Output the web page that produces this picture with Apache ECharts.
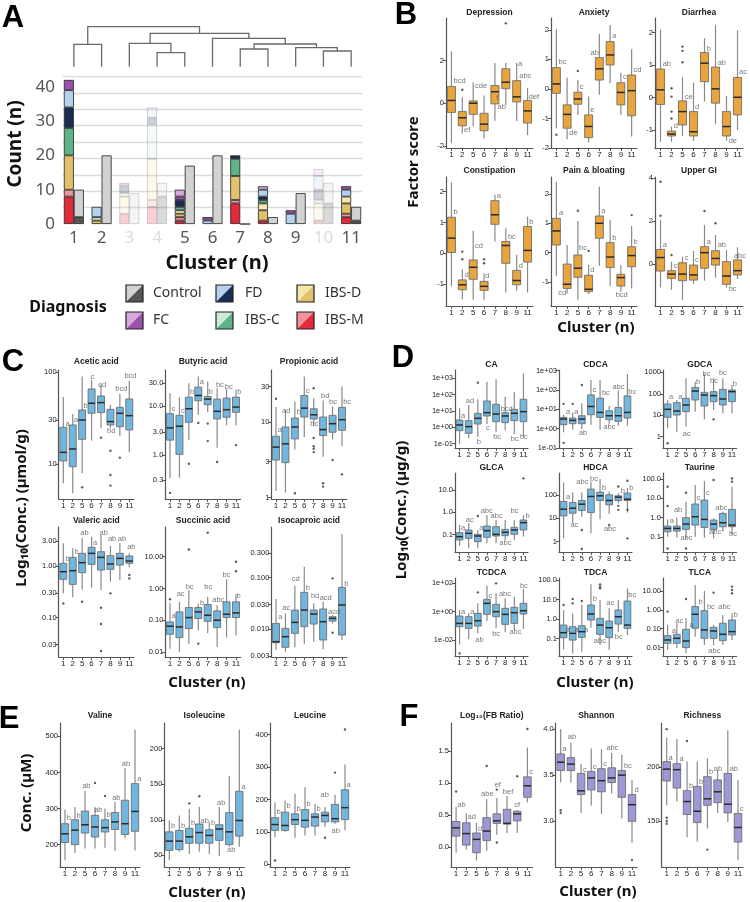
<!DOCTYPE html>
<html><head><meta charset="utf-8">
<script src="https://cdn.jsdelivr.net/npm/echarts@6/dist/echarts.min.js"></script>
<style>html,body{margin:0;padding:0;background:#fff}#c{width:750px;height:902px}</style>
</head><body><div id="c"></div>
<script>
// ---------------- Panel A data ----------------
const clustersA = ['1','2','3','4','5','6','7','8','9','10','11'];
const fadedClusters = ['3','4','10'];
const countTicks = ['0','10','20','30','40'];
const ibsmDark  = [8,0,3,5,1,0,6,1,0,1,2];
const ibsmLight = [2,0,0,2,1,0,1,0,0,0,1];
const ibsdDark  = [10,1,0,0,1,0,7,3,0,0,3];
const ibsdLight = [0,0,5,12,1,0,0,2,0,5,2];
const ibscDark  = [8,0,0,0,1,0,5,1,0,0,0];
const ibscLight = [0,1,1,10,0,0,0,0,0,1,0];
const fdDark    = [6,0,2,2,2,0,1,1,0,3,0];
const fdLight   = [5,3,0,3,0,1,0,2,3,4,2];
const fcDark    = [3,0,1,0,1,1,0,0,1,0,1];
const fcLight   = [0,0,0,0,2,0,0,1,0,2,0];
const ctrlDark  = [2,0,0,8,0,0,0,0,0,6,1];
const ctrlLight = [8,20,9,4,17,20,0,2,9,6,4];
// dendrogram merges: [left, right, height]
const dendroMerges = [[1,2,0.56],[4,5,0.35],[3,'m2',0.585],[7,8,0.443],[10,11,0.393],[9,'m5',0.475],['m4','m6',0.568],[6,'m7',0.71],['m3','m8',0.835],['m1','m9',1.0]];

// ---------------- Box panels ----------------
const clusters = ['1','2','5','6','7','8','9','11'];
// B
const depTicks=['-2','0','2'];
const depBox=[[-1.86,-0.43,0.13,0.79,2.44],[-1.42,-1.06,-0.68,-0.39,0.28],[-1.07,-0.52,0.0,0.11,0.98],[-1.65,-1.29,-0.98,-0.47,0.36],[-0.82,-0.03,0.54,0.83,1.89],[-0.08,0.68,0.99,1.62,1.89],[-0.83,0.06,0.30,1.06,1.89],[-1.5,-0.93,-0.36,0.13,0.71]];
const depOut=[[1,0.63],[5,3.75]];
const depLet=[['bcd',0.15,1.05],['ef',0.12,-1.26],['cde',0.12,0.83],['f',1.08,0.27],['ab',0.19,-0.19],['a',1.08,1.86],['abc',0.19,1.28],['def',0.06,0.31]];
const anxTicks=['-2','-1','0','1','2'];
const anxBox=[[-1.33,-0.15,0.17,0.72,2.02],[-1.7,-1.33,-0.86,-0.54,0.39],[-0.88,-0.52,-0.34,-0.11,0.30],[-1.81,-1.65,-1.27,-0.88,-0.26],[-0.2,0.30,0.68,1.06,1.86],[0.19,0.81,1.15,1.6,2.16],[-0.88,-0.54,-0.12,0.21,0.55],[-1.61,-0.91,-0.06,0.47,1.34]];
const anxOut=[[0,-1.55],[2,0.61]];
const anxLet=[['bc',0.15,0.92],['de',0.15,-1.5],['c',0.12,0.06],['e',0.1,-0.71],['ab',-0.87,1.23],['a',0.15,1.79],['c',0.15,0.39],['cd',0.12,0.64]];
const diaTicks=['-1','0','1','2'];
const diaBox=[[-1.36,-0.21,0.24,0.88,2.09],[-1.36,-1.18,-1.12,-1.03,-0.89],[-1.18,-0.84,-0.43,-0.1,0.63],[-1.33,-1.18,-1.05,-0.43,0.46],[-0.12,0.49,1.06,1.39,1.83],[-0.82,-0.17,0.27,0.94,2.24],[-1.33,-1.18,-0.89,-0.43,0.05],[-1.0,-0.53,0.01,0.62,2.07]];
const diaOut=[[1,0.29],[1,0.03],[1,-0.43],[1,-0.64],[2,1.57],[2,1.44],[2,1.09]];
const diaLet=[['ab',0.15,1.04],['d',0.15,-0.87],['ce',0.15,0.03],['d',0.1,-0.3],['b',0.15,1.5],['ab',0.15,1.06],['de',0.15,-1.33],['ac',0.1,0.78]];
const conTicks=['-1','0','1','2'];
const conBox=[[-1.08,0.02,0.49,1.17,2.3],[-1.5,-1.19,-1.03,-0.87,-0.52],[-1.52,-0.85,-0.46,-0.22,0.73],[-1.52,-1.21,-1.08,-0.92,-0.65],[0.38,0.94,1.25,1.71,1.9],[-1.28,-0.33,0.25,0.38,0.81],[-1.22,-1.03,-0.89,-0.56,-0.05],[-1.28,-0.29,0.09,0.87,1.19]];
const conOut=[[1,0.05],[1,-0.2],[3,-0.2],[3,-0.33]];
const conLet=[['b',0.15,1.35],['d',0.15,-0.7],['cd',0.12,0.22],['d',0.06,-0.74],['a',0.12,1.86],['bc',0.15,0.52],['d',0.15,-0.41],['b',0.12,1.03]];
const painTicks=['-1','0','1','2'];
const painBox=[[-0.8,0.26,0.74,1.17,2.42],[-1.39,-1.22,-1.08,-0.39,0.26],[-1.61,-0.84,-0.53,-0.08,1.08],[-1.41,-1.33,-1.25,-0.77,-0.42],[-0.45,0.49,1.0,1.25,2.25],[-1.14,-0.51,-0.15,0.34,1.11],[-1.33,-1.14,-0.85,-0.74,-0.42],[-1.22,-0.48,-0.1,0.2,0.91]];
const painOut=[[2,1.43],[3,0.06],[7,1.28]];
const painLet=[['a',0.19,1.34],['cd',-0.87,-1.39],['bc',0.06,0.15],['d',0.1,-0.59],['a',0.12,1.43],['b',0.15,0.51],['bcd',-0.53,-1.44],['b',0.12,0.38]];
const ugiTicks=['0','2','4'];
const ugiBox=[[-1.09,-0.33,0.3,0.68,2.05],[-1.21,-0.67,-0.47,-0.31,0.11],[-1.68,-0.78,-0.47,0.06,0.34],[-0.93,-0.75,-0.51,-0.05,0.61],[-0.78,-0.2,0.53,0.81,1.82],[-0.64,-0.05,0.26,0.62,1.35],[-1.1,-0.95,-0.56,0.11,0.65],[-0.7,-0.51,-0.31,0.19,0.78]];
const ugiOut=[[0,3.84],[0,2.25],[1,0.42],[4,2.47],[5,1.9]];
const ugiLet=[['a',0.15,0.89],['c',0.15,-0.09],['c',0.15,0.26],['c',0.1,0.19],['a',0.15,1.04],['ab',0.15,0.89],['bc',0.15,-1.18],['abc',-0.37,0.37]];
// C (log10 values)
const aceTicks=['10','30','100'];
const aceBox=[[0.79,1.033,1.127,1.40,1.73],[0.68,0.97,1.164,1.425,1.545],[0.898,1.269,1.48,1.589,1.953],[1.255,1.553,1.662,1.818,1.916],[1.389,1.56,1.669,1.742,1.87],[1.389,1.425,1.462,1.596,1.644],[1.305,1.407,1.553,1.618,1.764],[1.127,1.371,1.527,1.709,1.909]];
const aceOut=[[2,0.745],[4,1.287],[5,1.145],[5,0.88],[5,0.764],[6,1.069]];
const aceLet=[['a',0.18,1.44],['a',0.07,1.48],['b',0.1,1.633],['c',-0.18,1.945],['cd',-0.35,1.862],['bd',-0.42,1.364],['bcd',-0.53,1.818],['bcd',-0.57,1.964]];
const butTicks=['0.3','1.0','3.0','10.0','30.0'];
const butBox=[[-0.476,0.306,0.558,0.85,1.272],[-0.463,0.014,0.592,0.816,1.19],[0.306,0.673,0.952,1.19,1.476],[0.83,1.116,1.224,1.395,1.612],[0.878,1.034,1.15,1.204,1.51],[0.15,0.741,0.898,1.15,1.374],[0.612,0.776,0.932,1.17,1.354],[0.612,0.878,0.986,1.19,1.34]];
const butOut=[[0,-0.78],[2,-0.18],[3,0.66],[4,0.646],[4,0.286],[5,-0.143],[7,0.204]];
const butLet=[['c',0.1,0.952],['c',0.1,0.91],['b',0.07,1.29],['a',0.1,1.5],['b',0.07,1.29],['bc',-0.18,1.44],['bc',-0.25,1.39],['b',0.07,1.29]];
const proTicks=['1','3','10','30'];
const proBox=[[0.088,0.498,0.67,0.815,1.203],[0.066,0.463,0.714,0.938,1.167],[0.639,0.78,0.938,1.057,1.278],[0.806,1.07,1.189,1.357,1.608],[0.947,1.044,1.1,1.18,1.32],[0.542,0.824,0.903,1.07,1.29],[0.771,0.868,0.982,1.093,1.211],[0.683,0.894,1.035,1.198,1.476]];
const proOut=[[0,1.313],[2,0.057],[4,1.454],[4,0.793],[4,0.683],[4,0.648],[4,0.604],[5,0.189],[5,0.145],[6,0.498],[7,0.308]];
const proLet=[['a',0.14,0.894],['ad',-0.42,1.145],['b',0.14,1.137],['c',0.14,1.42],['bc',-0.42,0.98],['bd',-0.28,1.357],['bc',-0.42,1.27],['bc',0.07,1.27]];
const valTicks=['0.03','0.10','0.30','1.00','3.00'];
const valBox=[[-0.529,-0.258,-0.11,0.052,0.439],[-0.606,-0.355,-0.09,0.168,0.342],[-0.452,-0.129,0.065,0.245,0.535],[-0.419,0.032,0.245,0.361,0.568],[-0.465,-0.077,0.168,0.277,0.6],[-0.303,-0.065,0.039,0.2,0.387],[-0.271,0.019,0.148,0.245,0.439],[-0.026,0.052,0.097,0.194,0.245]];
const valOut=[[0,-0.723],[2,-0.69],[4,-0.806],[4,-1.123],[4,-1.645],[5,-0.529],[7,-0.174],[7,-0.239]];
const valLet=[['b',0.18,0.135],['b',0.14,0.265],['ab',-0.25,0.632],['a',0.1,0.452],['ab',-0.21,0.632],['ab',-0.32,0.523],['ab',-0.28,0.523],['ab',-0.28,0.361]];
const sucTicks=['0.01','0.10','1.00','10.00'];
const sucBox=[[-1.895,-1.442,-1.189,-1.053,-0.453],[-2.0,-1.547,-1.21,-0.737,-0.421],[-1.737,-1.263,-0.916,-0.6,-0.053],[-1.316,-0.947,-0.737,-0.6,-0.474],[-1.4,-1.032,-0.842,-0.505,-0.263],[-1.842,-1.232,-1.0,-0.705,-0.526],[-1.547,-0.916,-0.81,-0.421,0.284],[-1.474,-0.916,-0.768,-0.421,-0.179]];
const sucOut=[[0,-0.337],[2,1.23],[3,-1.737],[4,1.758],[7,0.842],[7,0.547]];
const sucLet=[['a',0.1,-0.874],['ac',-0.35,-0.179],['bc',-0.39,0.053],['b',0.14,-0.442],['bc',-0.42,0.053],['abc',-0.57,-0.347],['bc',-0.49,0.442],['b',0.0,-0.242]];
const isoTicks=['0.003','0.010','0.030','0.100','0.300'];
const isoBox=[[-2.4,-2.258,-2.239,-1.884,-1.413],[-2.432,-2.348,-2.142,-1.98,-1.69],[-2.348,-2.077,-1.865,-1.626,-1.155],[-2.284,-1.948,-1.626,-1.284,-0.787],[-2.239,-1.897,-1.703,-1.626,-1.497],[-2.387,-2.206,-1.852,-1.606,-1.465],[-1.884,-1.839,-1.787,-1.755,-1.723],[-2.206,-2.11,-1.529,-1.187,-0.155]];
const isoOut=[[6,-1.013],[6,-2.065]];
const isoLet=[['a',0.18,-1.755],['ac',-0.39,-1.594],['cd',-0.39,-1.032],['b',0.1,-1.194],['bd',-0.35,-1.355],['acd',-0.42,-1.4],['acd',-0.53,-1.658],['b',0.18,-1.129]];
// D (log10 values)
const caTicks=['1e-01','1e+00','1e+01','1e+02','1e+03'];
const caBox=[[-1.015,-0.203,0.142,0.447,1.157],[-0.67,-0.365,0.04,0.406,1.36],[-0.569,0.203,0.548,0.853,1.706],[0.203,0.69,0.893,1.604,2.78],[-0.264,0.345,0.812,1.4,2.92],[-0.162,0.284,0.69,0.893,1.868],[-0.406,0.406,0.853,1.096,2.17],[-0.569,0.345,0.954,1.706,3.29]];
const caOut=[[2,2.72]];
const caLet=[['a',0.1,0.71],['ad',-0.37,1.624],['b',-0.18,-0.873],['c',-0.15,-0.06],['bc',-0.37,-0.61],['bcd',-0.55,1.096],['bc',-0.44,-0.73],['bc',-0.44,-0.61]];
const cdcaTicks=['1e-01','1e+00','1e+01','1e+02','1e+03'];
const cdcaBox=[[-0.188,0.205,0.496,0.581,0.718],[-0.051,0.256,0.427,0.547,0.838],[-0.017,0.256,0.496,0.667,1.316],[0.205,0.718,1.145,1.744,2.513],[-0.051,0.581,0.838,1.573,2.513],[0.256,0.462,0.667,0.923,1.179],[0.154,0.376,0.667,1.094,1.966],[0.154,0.547,0.838,1.692,2.82]];
const cdcaOut=[[0,1.282],[0,-0.735],[1,1.282],[2,2.256]];
const cdcaLet=[['a',0.22,0.838],['a',0.11,0.838],['ab',-0.37,-0.22],['c',0.15,2.0],['bc',0.15,1.83],['abc',-0.7,0.068],['abc',-0.7,2.137],['bc',0.04,1.915]];
const gdcaTicks=['1','10','100','1000'];
const gdcaBox=[[0.389,0.902,1.275,1.523,1.7],[0.233,1.01,1.197,1.586,1.71],[0.466,1.166,1.477,1.788,2.72],[1.166,1.71,2.13,2.3,2.565],[0.808,1.43,1.943,2.067,2.922],[1.244,1.632,1.912,2.1,2.72],[1.088,1.477,1.757,2.207,2.72],[1.088,1.632,2.1,2.176,2.41]];
const gdcaOut=[[0,-0.311],[5,0.808]];
const gdcaLet=[['a',0.11,1.85],['a',0.11,1.85],['ac',-0.4,0.124],['b',0.04,2.534],['bc',-0.26,2.907],['bc',-0.44,2.612],['bc',-0.48,2.953],['b',0.04,2.44]];
const glcaTicks=['0.1','1.0','10.0'];
const glcaBox=[[-1.519,-1.248,-1.098,-0.917,-0.571],[-1.624,-1.173,-0.947,-0.797,-0.496],[-1.624,-1.323,-1.068,-0.992,-0.797],[-1.398,-1.128,-0.827,-0.617,-0.12],[-1.398,-1.068,-0.992,-0.647,-0.346],[-1.248,-1.053,-0.902,-0.767,-0.346],[-1.248,-0.992,-0.797,-0.677,-0.35],[-1.098,-0.797,-0.466,-0.346,-0.12]];
const glcaOut=[[2,-0.165],[7,1.534]];
const glcaLet=[['a',0.11,-0.692],['ac',-0.37,-0.346],['a',0.11,-0.692],['abc',-0.74,0.075],['abc',-0.66,-0.165],['abc',-0.7,-1.398],['bc',-0.48,0.075],['b',0.18,-0.165]];
const hdcaTicks=['1','10','100'];
const hdcaBox=[[0.143,1.1,1.386,1.714,2.529],[0.786,1.214,1.429,1.671,2.1],[1.071,1.329,1.6,1.757,2.1],[0.357,1.243,1.929,2.243,2.571],[0.957,1.757,1.957,2.114,2.671],[1.186,1.571,1.757,2.0,2.143],[1.643,1.757,1.9,1.957,2.071],[1.243,1.757,1.814,2.071,2.286]];
const hdcaOut=[[2,0.5],[2,-0.31],[5,0.714],[6,2.357],[6,1.529],[6,1.357],[7,2.6],[7,1.357],[7,0.143]];
const hdcaLet=[['a',0.22,1.929],['ac',-0.3,0.714],['abc',-0.66,2.529],['bc',-0.15,2.671],['b',0.15,2.286],['abc',-0.63,0.529],['b',0.22,2.171],['b',0.15,2.314]];
const taurTicks=['0.1','1.0','10.0','100.0'];
const taurBox=[[-0.983,-0.724,-0.552,-0.431,-0.086],[-1.017,-0.69,-0.552,-0.431,0.017],[-1.069,-0.603,-0.328,0.0,0.828],[-0.983,-0.379,0.052,0.707,1.69],[-1.017,-0.5,-0.086,0.914,1.897],[-1.069,-0.603,-0.328,-0.121,-0.034],[-0.724,-0.466,-0.259,0.224,0.31],[-0.897,-0.466,-0.379,0.431,1.603]];
const taurOut=[[0,1.603],[0,0.603],[0,-1.586],[2,1.293],[2,-1.586],[5,1.948],[7,2.03],[7,1.862]];
const taurLet=[['a',0.18,-0.172],['ab',-0.37,0.397],['abc',-0.66,-1.069],['c',0.11,1.0],['c',0.11,1.259],['abc',-0.55,-0.724],['abc',-0.88,0.517],['bc',-0.37,-0.862]];
const tcdcaTicks=['1e-02','1e+00','1e+02'];
const tcdcaBox=[[-2.279,-1.047,-0.814,-0.302,0.116],[-1.93,-1.163,-0.814,-0.349,-0.116],[-1.512,-1.0,-0.628,-0.116,0.581],[-0.651,-0.186,0.581,0.86,1.814],[-1.163,-0.349,0.0,0.512,1.279],[-1.442,-0.884,-0.186,0.233,0.93],[-1.279,-0.814,-0.07,0.302,1.047],[-1.209,-0.163,0.07,0.581,1.581]];
const tcdcaOut=[[0,-2.907],[2,1.349],[4,1.977]];
const tcdcaLet=[['a',0.11,0.0],['a',0.11,0.0],['ab',-0.33,-1.977],['c',0.11,1.093],['bc',-0.48,-1.581],['abc',-0.74,1.233],['abc',-0.59,-1.442],['bc',-0.44,1.814]];
const tdcaTicks=['0.1','1.0','10.0','100.0'];
const tdcaBox=[[-1.56,-0.96,-0.703,-0.309,0.463],[-1.766,-1.08,-0.737,-0.394,0.291],[-1.68,-0.943,-0.651,-0.343,0.72],[-0.446,-0.051,0.257,0.72,1.783],[-1.337,-0.789,-0.309,0.034,0.977],[-1.594,-0.96,-0.446,-0.103,0.549],[-0.651,-0.257,0.12,0.463,0.977],[-0.823,-0.48,-0.309,0.926,1.577]];
const tdcaOut=[[0,0.72],[1,1.029],[1,0.806],[2,0.926],[4,1.783],[4,1.663],[4,1.577]];
const tdcaLet=[['a',0.22,-0.566],['a',0.15,-0.566],['a',0.18,-0.566],['b',0.15,1.011],['abc',-0.74,-1.114],['ac',-0.37,0.806],['bc',-0.44,-0.909],['bc',0.04,1.234]];
const tlcaTicks=['0.01','0.10','1.00','10.00'];
const tlcaBox=[[-2.13,-1.775,-1.598,-1.367,-0.799],[-2.041,-1.775,-1.509,-1.296,-0.71],[-2.308,-2.006,-1.651,-1.03,-0.444],[-1.42,-0.976,-0.231,0.178,1.331],[-1.864,-1.509,-1.065,-0.036,1.012],[-1.864,-1.509,-1.118,-0.923,-0.799],[-1.864,-1.633,-1.296,-0.71,-0.266],[-1.598,-1.331,-1.154,-0.533,-0.178]];
const tlcaOut=[[0,-0.089],[2,0.586],[5,0.923],[7,1.243],[7,1.065],[7,0.888]];
const tlcaLet=[['a',0.4,-1.118],['ac',-0.22,-0.568],['a',0.33,-0.799],['b',0.3,0.408],['bc',0.22,0.178],['abc',-0.63,-2.184],['abc',-0.55,0.178],['b',0.11,-0.266]];
// E
const valiTicks=['200','300','400','500'];
const valiBox=[[157,206,230,258,297],[177,200,240,269,304],[189,232,255,293,349],[189,221,249,281,304],[191,235,247,269,300],[182,242,263,289,318],[218,228,258,323,412],[184,237,292,369,519]];
const valiOut=[[3,371],[4,335]];
const valiLet=[['b',0.13,274],['b',0.1,279],['ab',-0.33,362],['ab',-0.13,297],['b',0.1,283],['ab',-0.33,330],['ab',-0.37,424],['a',0.17,381]];
const ileuTicks=['50','100','150','200'];
const ileuBox=[[43,57,70,83,99],[55,58,70,85,106],[52,67,76,88,115],[55,67,82,94,118],[52,67,78,86,97],[49,71,87,93,118],[62,65,83,110,162],[62,77,99,140,227]];
const ileuOut=[[2,123],[3,133]];
const ileuLet=[['b',0.13,91],['b',0.13,91],['b',0.13,96],['ab',0.07,99],['b',0.13,96],['ab',-0.27,123],['ab',-0.27,57],['a',0.17,146]];
const leuTicks=['0','100','200','300','400'];
const leuBox=[[84,105,123,144,192],[100,105,120,161,197],[82,123,138,156,218],[89,115,136,169,238],[89,118,146,156,187],[115,131,151,161,177],[125,131,141,185,215],[105,138,175,230,308]];
const leuOut=[[0,12],[5,82],[6,283],[7,416]];
const leuLet=[['b',0.1,161],['b',0.1,179],['b',0.1,172],['b',0.1,185],['b',0.1,172],['ab',-0.5,215],['ab',-0.4,102],['a',0.1,244]];
// F
const fbTicks=['0.0','0.5','1.0','1.5'];
const fbBox=[[-0.09,0.17,0.30,0.40,0.63],[-0.04,0.03,0.21,0.38,0.53],[-0.21,-0.09,0.12,0.22,0.38],[-0.06,0.10,0.25,0.46,0.75],[0.19,0.37,0.41,0.52,0.77],[0.22,0.36,0.37,0.59,0.8],[0.22,0.41,0.52,0.56,0.58],[0.70,0.78,0.96,1.10,1.56]];
const fbOut=[[0,0.87],[3,1.27],[4,0.07],[4,0.9],[6,1.11],[7,1.85]];
const fbLet=[['ab',0.07,0.66],['ad',0.07,0.47],['d',0.1,0.29],['abe',-0.6,0.83],['ef',-0.26,0.97],['bef',-0.46,0.87],['cf',-0.33,0.66],['c',0.13,1.17]];
const shanTicks=['3.0','3.5','4.0'];
const shanBox=[[3.42,3.55,3.64,3.73,4.0],[3.42,3.55,3.62,3.69,3.85],[3.09,3.29,3.33,3.52,3.62],[3.17,3.34,3.47,3.54,3.79],[3.08,3.32,3.44,3.57,3.78],[3.30,3.42,3.47,3.58,3.74],[3.03,3.26,3.50,3.55,3.72],[2.77,3.0,3.18,3.29,3.45]];
const shanOut=[[0,3.12],[0,3.09],[7,2.58]];
const shanLet=[['a',0.13,3.78],['ab',-0.36,3.91],['c',0.13,3.56],['c',0.13,3.59],['c',0.13,3.62],['abc',-0.56,3.80],['bc',0.16,3.6],['d',0.2,3.34]];
const richTicks=['150','200'];
const richBox=[[164.5,187,198,205,227],[168,180.5,197.5,203,226],[135,156,168,178,205],[131,148.5,159,182,205],[143,164.5,170.5,191,208],[157.5,167,177,188,197],[149,157.5,165.5,194,234],[113.6,130.5,144,157,188]];
const richOut=[[0,235],[0,153],[0,150],[0,147.5],[2,224],[4,123.5]];
const richLet=[['a',0.13,208.6],['a',0.2,207],['b',0.13,182],['b',0.13,186],['b',0.1,195],['ab',-0.43,198],['ab',0.13,198],['c',0.13,161]];

// ---------------- build ----------------
const SF = 'Liberation Sans, Arial, sans-serif';
const BF = 'Noto Sans, Open Sans, sans-serif';
const grid=[], xAxis=[], yAxis=[], series=[], graphic=[];

function txt(x,y,s,size,weight,color,rot,family,align){
  graphic.push({type:'text', x:x, y:y, rotation: rot||0, silent:true,
    style:{text:s, fontSize:size, fontWeight:weight||'normal', fontFamily:family||BF, fill:color||'#111',
      textAlign:align||'center', textVerticalAlign:'middle', align:align||'center', verticalAlign:'middle'}});
}

function boxRender(color){
  return function(params, api){
    const i = api.value(0);
    const v = [api.value(1),api.value(2),api.value(3),api.value(4),api.value(5)];
    const p = v.map(val => api.coord([i, val]));
    const cx = p[0][0];
    const bw = api.size([1,0])[0]*0.74;
    return {type:'group', children:[
      {type:'line', shape:{x1:cx,y1:p[4][1],x2:cx,y2:p[3][1]}, style:{stroke:'#8a8a8a', lineWidth:1.2}},
      {type:'line', shape:{x1:cx,y1:p[1][1],x2:cx,y2:p[0][1]}, style:{stroke:'#8a8a8a', lineWidth:1.2}},
      {type:'rect', shape:{x:cx-bw/2, y:p[3][1], width:bw, height:p[1][1]-p[3][1]}, style:{fill:color, stroke:'#6e6e6e', lineWidth:0.9}},
      {type:'line', shape:{x1:cx-bw/2,y1:p[2][1],x2:cx+bw/2,y2:p[2][1]}, style:{stroke:'#2a2a2a', lineWidth:1.5}}
    ]};
  };
}

function boxPanel(c){
  const gi = grid.length;
  grid.push({left:c.left, top:c.top, width:c.width, height:c.height});
  const xi = xAxis.length;
  xAxis.push({type:'category', gridIndex:gi, data:clusters, position:'bottom',
    axisLine:{show:true, onZero:false, lineStyle:{color:'#555', width:1.2}},
    axisTick:{show:true, length:3, alignWithLabel:true, lineStyle:{color:'#555', width:1}},
    axisLabel:{interval:0, fontSize:8, color:'#222', margin:3, fontFamily:SF}, splitLine:{show:false}});
  xAxis.push({type:'value', gridIndex:gi, min:-0.5, max:clusters.length-0.5, show:false});
  const yi = yAxis.length;
  const tickPos = c.ticks.map(s => c.log ? Math.log10(parseFloat(s)) : parseFloat(s));
  yAxis.push({type:'value', gridIndex:gi, min:c.min, max:c.max, position:'left',
    axisLine:{show:true, onZero:false, lineStyle:{color:'#555', width:1.2}},
    axisTick:{show:true, length:3, customValues:tickPos, lineStyle:{color:'#555', width:1}},
    axisLabel:{show:true, customValues:tickPos, fontSize:7.5, color:'#222', margin:2, fontFamily:SF,
      formatter:function(v){ const k = tickPos.findIndex(t => Math.abs(t-v) < 1e-6); return k>=0 ? c.ticks[k] : ''; }},
    splitLine:{show:false}});
  series.push({type:'custom', xAxisIndex:xi, yAxisIndex:yi, renderItem:boxRender(c.color),
    encode:{x:0, y:[1,2,3,4,5]}, data:c.box.map((b,i)=>[i].concat(b)), silent:true, z:2});
  series.push({type:'scatter', xAxisIndex:xi, yAxisIndex:yi, data:c.out, symbolSize:2.4,
    itemStyle:{color:'#333'}, silent:true, z:3});
  series.push({type:'scatter', xAxisIndex:xi+1, yAxisIndex:yi, symbolSize:1, itemStyle:{color:'rgba(0,0,0,0)'},
    data:c.lets.map((l,i)=>[i+l[1], l[2], l[0]]), silent:true, z:4,
    label:{show:true, position:'right', distance:0, formatter:p=>p.data[2], fontSize:7.5, color:'#555', fontFamily:SF}});
  txt(c.left + c.width/2, c.titleY, c.title, 8.5, 'bold', '#222', 0, SF);
}

const ORANGE='#E9A43B', BLUE='#71B6DE', PURPLE='#9D99D8';
const panels = [
  // B
  {title:'Depression', box:depBox, out:depOut, lets:depLet, ticks:depTicks, min:-2.1, max:4.0, left:446, top:18, width:87, height:130, titleY:13, color:ORANGE},
  {title:'Anxiety', box:anxBox, out:anxOut, lets:anxLet, ticks:anxTicks, min:-2.0, max:2.4, left:551, top:18, width:86, height:130, titleY:13, color:ORANGE},
  {title:'Diarrhea', box:diaBox, out:diaOut, lets:diaLet, ticks:diaTicks, min:-1.55, max:2.45, left:655, top:18, width:88, height:130, titleY:13, color:ORANGE},
  {title:'Constipation', box:conBox, out:conOut, lets:conLet, ticks:conTicks, min:-1.72, max:2.48, left:446, top:177, width:87, height:129, titleY:171, color:ORANGE},
  {title:'Pain & bloating', box:painBox, out:painOut, lets:painLet, ticks:painTicks, min:-1.82, max:2.58, left:551, top:177, width:86, height:129, titleY:171, color:ORANGE},
  {title:'Upper GI', box:ugiBox, out:ugiOut, lets:ugiLet, ticks:ugiTicks, min:-1.96, max:4.06, left:655, top:177, width:88, height:129, titleY:171, color:ORANGE},
  // C
  {title:'Acetic acid', box:aceBox, out:aceOut, lets:aceLet, ticks:aceTicks, log:true, min:0.618, max:2.025, left:58.6, top:370, width:75.4, height:129, titleY:362, color:BLUE},
  {title:'Butyric acid', box:butBox, out:butOut, lets:butLet, ticks:butTicks, log:true, min:-0.905, max:1.748, left:165.3, top:370, width:75.4, height:129, titleY:362, color:BLUE},
  {title:'Propionic acid', box:proBox, out:proOut, lets:proLet, ticks:proTicks, log:true, min:-0.02, max:1.696, left:271.3, top:370, width:75.4, height:129, titleY:362, color:BLUE},
  {title:'Valeric acid', box:valBox, out:valOut, lets:valLet, ticks:valTicks, log:true, min:-1.76, max:0.755, left:58.6, top:527, width:75.4, height:130, titleY:521, color:BLUE},
  {title:'Succinic acid', box:sucBox, out:sucOut, lets:sucLet, ticks:sucTicks, log:true, min:-2.158, max:1.937, left:165.3, top:527, width:75.4, height:130, titleY:521, color:BLUE},
  {title:'Isocaproic acid', box:isoBox, out:isoOut, lets:isoLet, ticks:isoTicks, log:true, min:-2.535, max:-0.019, left:271.3, top:527, width:75.4, height:130, titleY:521, color:BLUE},
  // D
  {title:'CA', box:caBox, out:caOut, lets:caLet, ticks:caTicks, log:true, min:-1.26, max:3.49, left:455, top:370, width:73, height:78, titleY:365, color:BLUE},
  {title:'CDCA', box:cdcaBox, out:cdcaOut, lets:cdcaLet, ticks:cdcaTicks, log:true, min:-1.0, max:3.03, left:559, top:370, width:73, height:78, titleY:365, color:BLUE},
  {title:'GDCA', box:gdcaBox, out:gdcaOut, lets:gdcaLet, ticks:gdcaTicks, log:true, min:-0.53, max:3.11, left:663, top:370, width:73.6, height:78, titleY:365, color:BLUE},
  {title:'GLCA', box:glcaBox, out:glcaOut, lets:glcaLet, ticks:glcaTicks, log:true, min:-1.79, max:1.775, left:455, top:473, width:73, height:79, titleY:468, color:BLUE},
  {title:'HDCA', box:hdcaBox, out:hdcaOut, lets:hdcaLet, ticks:hdcaTicks, log:true, min:-0.44, max:2.93, left:559, top:473, width:73, height:79, titleY:468, color:BLUE},
  {title:'Taurine', box:taurBox, out:taurOut, lets:taurLet, ticks:taurTicks, log:true, min:-1.77, max:2.31, left:663, top:473, width:73.6, height:79, titleY:468, color:BLUE},
  {title:'TCDCA', box:tcdcaBox, out:tcdcaOut, lets:tcdcaLet, ticks:tcdcaTicks, log:true, min:-3.09, max:2.35, left:455, top:578, width:73, height:78, titleY:573, color:BLUE},
  {title:'TDCA', box:tdcaBox, out:tdcaOut, lets:tdcaLet, ticks:tdcaTicks, log:true, min:-1.9, max:2.11, left:559, top:578, width:73, height:78, titleY:573, color:BLUE},
  {title:'TLCA', box:tlcaBox, out:tlcaOut, lets:tlcaLet, ticks:tlcaTicks, log:true, min:-2.45, max:1.7, left:663, top:578, width:73.6, height:78, titleY:573, color:BLUE},
  // E
  {title:'Valine', box:valiBox, out:valiOut, lets:valiLet, ticks:valiTicks, min:138, max:537, left:60, top:723, width:80, height:144, titleY:716, color:BLUE},
  {title:'Isoleucine', box:ileuBox, out:ileuOut, lets:ileuLet, ticks:ileuTicks, min:33.6, max:236, left:164.3, top:723, width:80, height:144, titleY:716, color:BLUE},
  {title:'Leucine', box:leuBox, out:leuOut, lets:leuLet, ticks:leuTicks, min:-8, max:436, left:270, top:723, width:80, height:144, titleY:716, color:BLUE},
  // F
  {title:'Log\u2081\u2080(FB Ratio)', box:fbBox, out:fbOut, lets:fbLet, ticks:fbTicks, min:-0.314, max:1.945, left:451, top:723, width:81.5, height:144, titleY:716, color:PURPLE},
  {title:'Shannon', box:shanBox, out:shanOut, lets:shanLet, ticks:shanTicks, min:2.505, max:4.065, left:555.6, top:723, width:81.5, height:144, titleY:716, color:PURPLE},
  {title:'Richness', box:richBox, out:richOut, lets:richLet, ticks:richTicks, min:107.4, max:240.7, left:661.6, top:723, width:81.5, height:144, titleY:716, color:PURPLE}
];
panels.forEach(boxPanel);

// ---------------- Panel A ----------------
(function(){
  const yMaxA = 43, nGrid = 9;
  // background gridlines (overlay grid with value axes)
  const bg = grid.length;
  grid.push({left:60, top:76.5, width:305, height:147.5});
  const bx = xAxis.length;
  xAxis.push({type:'value', gridIndex:bg, min:0.5, max:11.5, show:false});
  const by = yAxis.length;
  yAxis.push({type:'value', gridIndex:bg, min:0, max:yMaxA, show:false});
  const gLines = [];
  for (let k = 1; k <= nGrid; k++) { const v = k*yMaxA/nGrid; gLines.push({coords:[[0.6, v],[11.4, v]]}); }
  series.push({type:'lines', coordinateSystem:'cartesian2d', xAxisIndex:bx, yAxisIndex:by, polyline:false,
    data:gLines, lineStyle:{color:'#dcdcdc', width:1.4, opacity:1}, silent:true, z:1});

  const gi = grid.length;
  grid.push({left:60, top:76.5, width:305, height:147.5});
  const xi = xAxis.length;
  xAxis.push({type:'category', gridIndex:gi, data:clustersA,
    axisLine:{show:false, onZero:false}, axisTick:{show:false},
    axisLabel:{interval:0, fontSize:17, margin:6, fontFamily:BF,
      color:function(v){ return fadedClusters.indexOf(v)>=0 ? '#dcdcdc' : '#555'; }}});
  const yi = yAxis.length;
  const cPos = countTicks.map(Number);
  yAxis.push({type:'value', gridIndex:gi, min:0, max:yMaxA,
    axisLine:{show:false}, axisTick:{show:false, customValues:cPos},
    axisLabel:{customValues:cPos, fontSize:17, color:'#555', margin:5, fontFamily:BF},
    splitLine:{show:false}});
  const stacks = [
    ['pat', ibsmDark,'#E3293A'], ['pat', ibsmLight,'#F0939B'],
    ['pat', ibsdDark,'#E1C26A'], ['pat', ibsdLight,'#F5E6A9'],
    ['pat', ibscDark,'#5FB487'], ['pat', ibscLight,'#CDEBD9'],
    ['pat', fdDark,'#1B2D53'], ['pat', fdLight,'#B5D3EE'],
    ['pat', fcDark,'#9B52AD'], ['pat', fcLight,'#D9A8DD'],
    ['ctl', ctrlDark,'#555555'], ['ctl', ctrlLight,'#D2D2D2']
  ];
  stacks.forEach(function(s){
    series.push({type:'bar', stack:s[0], xAxisIndex:xi, yAxisIndex:yi, barWidth:10, barGap:'0%', silent:true, z:3,
      itemStyle:{color:s[2], borderColor:'#222', borderWidth:0.8},
      data:s[1].map(function(v,i){
        const val = (v===0 && !(s[0]==='ctl' && ctrlDark[i]+ctrlLight[i]===0 && s[1]===ctrlLight)) ? '-' : v;
        return fadedClusters.indexOf(clustersA[i])>=0 ? {value:val, itemStyle:{opacity:0.22}} : {value:val};
      })});
  });
  // dendrogram
  const dg = grid.length;
  grid.push({left:60, top:26.7, width:305, height:40});
  const dx = xAxis.length;
  xAxis.push({type:'value', gridIndex:dg, min:0.5, max:11.5, show:false});
  const dy = yAxis.length;
  yAxis.push({type:'value', gridIndex:dg, min:0, max:1, show:false});
  const pos = {}, hgt = {};
  clustersA.forEach(function(c){ pos[+c] = +c; hgt[+c] = 0; });
  const dLines = dendroMerges.map(function(m,k){
    const a=m[0], b=m[1], h=m[2];
    pos['m'+(k+1)] = (pos[a]+pos[b])/2; hgt['m'+(k+1)] = h;
    return {coords:[[pos[a],hgt[a]],[pos[a],h],[pos[b],h],[pos[b],hgt[b]]]};
  });
  series.push({type:'lines', coordinateSystem:'cartesian2d', xAxisIndex:dx, yAxisIndex:dy, polyline:true,
    data:dLines, lineStyle:{color:'#6a6a6a', width:1.3, opacity:1}, silent:true});
})();

// Legend A
const legendItems = [
  ['Control','#D2D2D2','#555555',126,285,153], ['FD','#B5D3EE','#1B2D53',216,285,245], ['IBS-D','#F5E6A9','#E1C26A',297,285,325],
  ['FC','#D9A8DD','#9B52AD',126,312,153], ['IBS-C','#CDEBD9','#5FB487',216,312,245], ['IBS-M','#F0939B','#E3293A',297,312,325]
];
legendItems.forEach(function(l){
  const x=l[3], y=l[4], s=17;
  graphic.push({type:'polygon', silent:true, shape:{points:[[x,y],[x+s,y],[x,y+s]]}, style:{fill:l[1]}});
  graphic.push({type:'polygon', silent:true, shape:{points:[[x+s,y],[x+s,y+s],[x,y+s]]}, style:{fill:l[2]}});
  graphic.push({type:'rect', silent:true, shape:{x:x,y:y,width:s,height:s}, style:{fill:'none', stroke:'#222', lineWidth:1.2}});
  txt(l[5], y+s/2, l[0], 14, 'normal', '#333', 0, BF, 'left');
});
txt(68, 307, 'Diagnosis', 16, 'bold', '#111');

// Panel letters and axis titles
txt(13, 18, 'A', 31, 'bold', '#000', 0, SF);
txt(406, 15, 'B', 31, 'bold', '#000', 0, SF);
txt(13, 362, 'C', 31, 'bold', '#000', 0, SF);
txt(403, 358, 'D', 31, 'bold', '#000', 0, SF);
txt(9, 719, 'E', 31, 'bold', '#000', 0, SF);
txt(409, 717, 'F', 31, 'bold', '#000', 0, SF);

txt(15.5, 144, 'Count (n)', 19, 'bold', '#111', Math.PI/2);
txt(217, 263, 'Cluster (n)', 20, 'bold', '#111');
txt(414, 162, 'Factor score', 15, 'bold', '#111', Math.PI/2);
txt(596, 328, 'Cluster (n)', 15, 'bold', '#111');
txt(22, 508, 'Log\u2081\u2080(Conc.) (\u00b5mol/g)', 15, 'bold', '#111', Math.PI/2);
txt(207, 683, 'Cluster (n)', 15, 'bold', '#111');
txt(402, 510, 'Log\u2081\u2080(Conc.) (\u00b5g/g)', 15, 'bold', '#111', Math.PI/2);
txt(595, 683, 'Cluster (n)', 15, 'bold', '#111');
txt(27, 793, 'Conc. (\u00b5M)', 15, 'bold', '#111', Math.PI/2);
txt(207, 893, 'Cluster (n)', 15, 'bold', '#111');
txt(598, 892, 'Cluster (n)', 15, 'bold', '#111');

const chart = echarts.init(document.getElementById('c'), null, {renderer:'canvas'});
chart.setOption({animation:false, backgroundColor:'#fff', grid:grid, xAxis:xAxis, yAxis:yAxis, series:series, graphic:graphic});
</script></body></html>
